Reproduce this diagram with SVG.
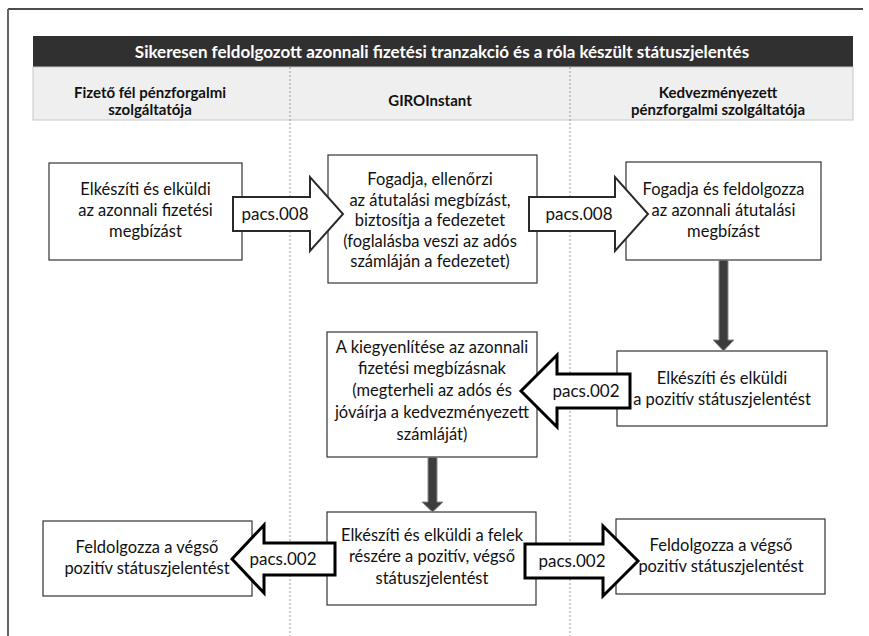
<svg xmlns="http://www.w3.org/2000/svg" width="869" height="636" viewBox="0 0 869 636">
<style>
  .box { fill: #ffffff; stroke: #333333; stroke-width: 1.2; }
  .t { font-family: Lato, "Open Sans", "Liberation Sans", sans-serif; font-size: 16.5px; fill: #111111; text-anchor: middle; }
  .h { font-family: Lato, "Open Sans", "Liberation Sans", sans-serif; font-size: 15px; font-weight: bold; fill: #111111; text-anchor: middle; }
  .title { font-family: Lato, "Open Sans", "Liberation Sans", sans-serif; font-size: 17px; font-weight: bold; fill: #ffffff; text-anchor: middle; }
  .lbl { font-family: Lato, "Open Sans", "Liberation Sans", sans-serif; font-size: 17px; fill: #111111; text-anchor: middle; }
  .a8 { fill: #ffffff; stroke: #2a2a2a; stroke-width: 2; stroke-linejoin: miter; }
  .a2 { fill: #ffffff; stroke: #000000; stroke-width: 3; stroke-linejoin: miter; }
  .va { fill: #3c3c3c; stroke: #8a8a8a; stroke-width: 1; }
  .lane { stroke: #999999; stroke-width: 1; stroke-dasharray: 2 2; fill: none; }
</style>

<g id="frame">
  <line x1="8" y1="9" x2="863" y2="9" stroke="#111111" stroke-width="1.5"/>
  <line x1="8" y1="9" x2="8" y2="636" stroke="#666666" stroke-width="2"/>
</g>

<g id="header">
  <rect x="33" y="36" width="820" height="31" fill="#303030"/>
  <text class="title" x="442" y="57.5">Sikeresen feldolgozott azonnali fizetési tranzakció és a róla készült státuszjelentés</text>
  <rect x="33" y="67" width="820" height="53" fill="#efefef" stroke="#c8c8c8" stroke-width="1"/>
  <text class="h" x="150" y="98">Fizető fél pénzforgalmi</text>
  <text class="h" x="150" y="115">szolgáltatója</text>
  <text class="h" x="430" y="106">GIROInstant</text>
  <text class="h" x="718" y="98">Kedvezményezett</text>
  <text class="h" x="718" y="115">pénzforgalmi szolgáltatója</text>
</g>

<g id="lanes">
  <line class="lane" x1="290" y1="67" x2="290" y2="636"/>
  <line class="lane" x1="570" y1="67" x2="570" y2="636"/>
</g>

<g id="nodeA">
  <rect class="box" x="49" y="163" width="193" height="97"/>
  <text class="t" x="145.5" y="195">Elkészíti és elküldi</text>
  <text class="t" x="145.5" y="216">az azonnali fizetési</text>
  <text class="t" x="145.5" y="237">megbízást</text>
</g>

<g id="nodeB">
  <rect class="box" x="328" y="155" width="209" height="128"/>
  <text class="t" x="430" y="185">Fogadja, ellenőrzi</text>
  <text class="t" x="430" y="205.5">az átutalási megbízást,</text>
  <text class="t" x="430" y="226">biztosítja a fedezetet</text>
  <text class="t" x="430" y="246.5">(foglalásba veszi az adós</text>
  <text class="t" x="430" y="267">számláján a fedezetet)</text>
</g>

<g id="nodeC">
  <rect class="box" x="626" y="162" width="195" height="98"/>
  <text class="t" x="723.5" y="195">Fogadja és feldolgozza</text>
  <text class="t" x="723.5" y="216">az azonnali átutalási</text>
  <text class="t" x="723.5" y="237">megbízást</text>
</g>

<g id="nodeD">
  <rect class="box" x="327" y="332" width="210" height="125"/>
  <text class="t" x="432" y="353">A kiegyenlítése az azonnali</text>
  <text class="t" x="432" y="374">fizetési megbízásnak</text>
  <text class="t" x="432" y="396">(megterheli az adós és</text>
  <text class="t" x="432" y="418">jóváírja a kedvezményezett</text>
  <text class="t" x="432" y="440">számláját)</text>
</g>

<g id="nodeE">
  <rect class="box" x="617" y="351" width="210" height="75"/>
  <text class="t" x="722" y="384">Elkészíti és elküldi</text>
  <text class="t" x="722" y="405">a pozitív státuszjelentést</text>
</g>

<g id="nodeF">
  <rect class="box" x="327" y="512" width="209" height="93"/>
  <text class="t" x="432" y="541">Elkészíti és elküldi a felek</text>
  <text class="t" x="432" y="562">részére a pozitív, végső</text>
  <text class="t" x="432" y="584">státuszjelentést</text>
</g>

<g id="nodeG">
  <rect class="box" x="43" y="521" width="209" height="75"/>
  <text class="t" x="147" y="553">Feldolgozza a végső</text>
  <text class="t" x="147" y="574">pozitív státuszjelentést</text>
</g>

<g id="nodeH">
  <rect class="box" x="616" y="519" width="209" height="75"/>
  <text class="t" x="721" y="551">Feldolgozza a végső</text>
  <text class="t" x="721" y="572">pozitív státuszjelentést</text>
</g>

<g id="connectors">
  <path class="a8" d="M233,197 H310 V177 L343,214 L310,251 V231 H233 Z"/>
  <text class="lbl" x="275" y="220">pacs.008</text>
  <path class="a8" d="M529,197 H615 V177 L648,214 L615,251 V231 H529 Z"/>
  <text class="lbl" x="579" y="220">pacs.008</text>
  <path class="va" d="M719,260 H728 V340 H734 L723.5,351 L713,340 H719 Z"/>
  <path class="a2" d="M630,374 H557 V355 L521,391 L557,427 V408 H630 Z"/>
  <text class="lbl" x="586" y="397">pacs.002</text>
  <path class="va" d="M428,457 H437 V502 H443 L432.5,512 L422,502 H428 Z"/>
  <path class="a2" d="M335,543 H264 V525 L232,559 L264,593 V575 H335 Z"/>
  <text class="lbl" x="283" y="565">pacs.002</text>
  <path class="a2" d="M525,544 H603 V526 L638,561 L603,596 V578 H525 Z"/>
  <text class="lbl" x="572" y="567">pacs.002</text>
</g>
</svg>
